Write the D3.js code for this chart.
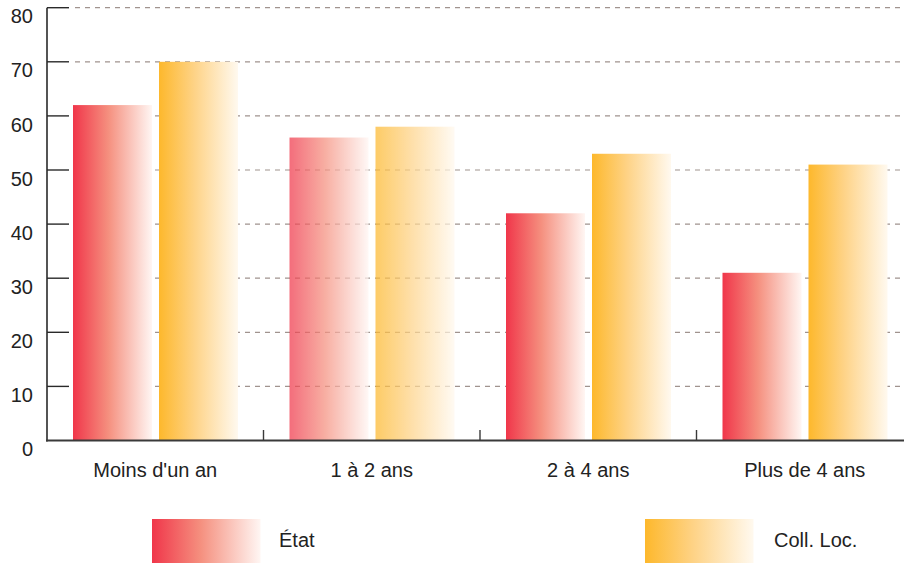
<!DOCTYPE html>
<html>
<head>
<meta charset="utf-8">
<script src="https://cdn.jsdelivr.net/npm/d3@7/dist/d3.min.js"></script>
<style>
  html, body { margin: 0; padding: 0; background: #fff; }
  svg { display: block; font-family: "Liberation Sans", Arial, Helvetica, sans-serif; }
</style>
</head>
<body>
<svg id="chart" width="904" height="563"></svg>
<script>
const categories = ["Moins d'un an", "1 à 2 ans", "2 à 4 ans", "Plus de 4 ans"];
const seriesNames = ["État", "Coll. Loc."];
const etatValues = [62, 56, 42, 31];
const collValues = [70, 58, 53, 51];
const yTicks = [0, 10, 20, 30, 40, 50, 60, 70, 80];

const svg = d3.select("#chart");
const W = 904, H = 563;

const x0 = d3.scaleBand().domain(categories).range([47, 913]).paddingInner(0).paddingOuter(0);
const x1 = d3.scaleBand().domain(seriesNames).range([26, 191]).paddingInner(7 / 86).paddingOuter(0);
const y = d3.scaleLinear().domain([0, 80]).range([440.5, 7.7]);

const defs = svg.append("defs");
function grad(id, stops) {
  const g = defs.append("linearGradient").attr("id", id)
    .attr("x1", "0%").attr("x2", "100%").attr("y1", "0%").attr("y2", "0%");
  stops.forEach(([o, c]) => g.append("stop").attr("offset", o).attr("stop-color", c));
}
grad("gEtat", [["0%", "#f0364a"], ["45%", "#f5907f"], ["100%", "#fff6f3"]]);
grad("gColl", [["0%", "#fdb82c"], ["45%", "#fed387"], ["100%", "#fff9ef"]]);
const fills = { "État": "url(#gEtat)", "Coll. Loc.": "url(#gColl)" };

// gridlines
svg.append("g").selectAll("line")
  .data(yTicks.filter(d => d > 0))
  .join("line")
  .attr("x1", 75).attr("x2", W)
  .attr("y1", d => y(d)).attr("y2", d => y(d))
  .attr("stroke", "#a0938e").attr("stroke-width", 1.2)
  .attr("stroke-dasharray", "5,5");

// bars
const data = categories.map((c, i) => ({ cat: c, i, vals: [
  { s: seriesNames[0], v: etatValues[i] },
  { s: seriesNames[1], v: collValues[i] }
]}));
const groups = svg.append("g").selectAll("g")
  .data(data).join("g")
  .attr("transform", d => `translate(${x0(d.cat)},0)`)
  .attr("opacity", d => d.i === 1 ? 0.72 : 1);
groups.selectAll("rect")
  .data(d => d.vals).join("rect")
  .attr("x", d => x1(d.s))
  .attr("width", x1.bandwidth())
  .attr("y", d => y(d.v))
  .attr("height", d => y(0) - y(d.v))
  .attr("fill", d => fills[d.s]);

// y axis
const yAxis = svg.append("g");
yAxis.append("line").attr("x1", 47).attr("x2", 47).attr("y1", y(80)).attr("y2", y(0) + 1)
  .attr("stroke", "#2a2a2a").attr("stroke-width", 1.6);
yAxis.selectAll("line.tick").data(yTicks.filter(d => d > 0)).join("line")
  .attr("class", "tick")
  .attr("x1", 47).attr("x2", 69)
  .attr("y1", d => y(d)).attr("y2", d => y(d))
  .attr("stroke", "#2a2a2a").attr("stroke-width", 1.4);
yAxis.selectAll("text").data(yTicks).join("text")
  .attr("x", 33).attr("y", d => y(d) + 15.6)
  .attr("text-anchor", "end")
  .attr("font-size", 20).attr("fill", "#222")
  .text(d => d);

// x axis
const xAxis = svg.append("g");
xAxis.append("line").attr("x1", 46).attr("x2", W).attr("y1", y(0)).attr("y2", y(0))
  .attr("stroke", "#3a3a3a").attr("stroke-width", 2);
xAxis.selectAll("line.tick").data(categories.slice(1)).join("line")
  .attr("class", "tick")
  .attr("x1", d => x0(d)).attr("x2", d => x0(d))
  .attr("y1", y(0)).attr("y2", y(0) - 10.5)
  .attr("stroke", "#3a3a3a").attr("stroke-width", 1.4);
xAxis.selectAll("text").data(categories).join("text")
  .attr("x", d => x0(d) + x0.bandwidth() / 2)
  .attr("y", 477)
  .attr("text-anchor", "middle")
  .attr("font-size", 20).attr("fill", "#222")
  .text(d => d);

// legend
const legendX = [152, 645];
const legendTextX = [279, 774];
const leg = svg.append("g").selectAll("g").data(seriesNames).join("g");
leg.append("rect")
  .attr("x", (d, i) => legendX[i]).attr("y", 519)
  .attr("width", 108.5).attr("height", 44)
  .attr("fill", d => fills[d]);
leg.append("text")
  .attr("x", (d, i) => legendTextX[i]).attr("y", 546.5)
  .attr("font-size", 20).attr("fill", "#222")
  .text(d => d);
</script>
</body>
</html>
